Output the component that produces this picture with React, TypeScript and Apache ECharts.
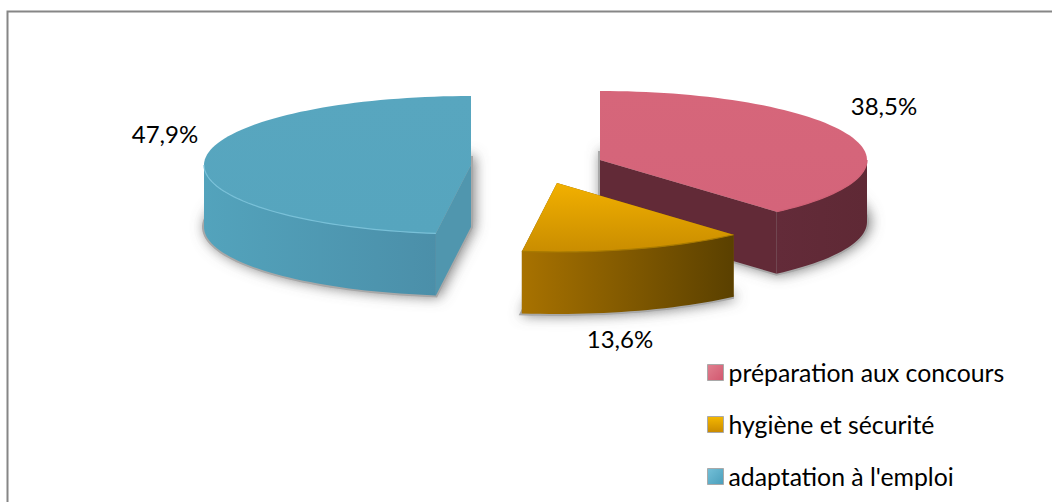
import React, { useEffect, useRef } from "react";
import * as echarts from "echarts";

const categories = ["préparation aux concours", "hygiène et sécurité", "adaptation à l'emploi"];
const values = [38.5, 13.6, 47.9];
const valueLabels = ["38,5%", "13,6%", "47,9%"];

const FONT = "Lato";
const RX = 267;
const RY = 69;
const DEPTH = 62;
const TOTAL = values.reduce((a, b) => a + b, 0);

const LG = (a: number, b: number, c: number, d: number, from: string, to: string) =>
  new echarts.graphic.LinearGradient(a, b, c, d, [
    { offset: 0, color: from },
    { offset: 1, color: to },
  ]);

const looks = [
  {
    center: [600, 160], labelAt: [884, 105],
    top: LG(0, 0, 0, 1, "#d6667a", "#d4647a"),
    wall: LG(0, 0, 1, 0, "#632b39", "#5f2935"),
    cut: "#622a37", edge: "#cf6075",
    marker: LG(0, 0, 1, 1, "#e0808f", "#d2576f"),
    main: "#d6667a",
  },
  {
    center: [557, 183], labelAt: [620, 338],
    top: LG(0, 0, 0, 1, "#f2b000", "#c98d00"),
    wall: LG(0, 0, 1, 0, "#a87200", "#5a4000"),
    cut: "#7a5500", edge: "#a87a00",
    marker: LG(0, 0, 0, 1, "#f5b800", "#c98a00"),
    main: "#f2b000",
  },
  {
    center: [471, 165], labelAt: [165, 133],
    top: LG(0, 0, 0, 1, "#58a6bf", "#56a5be"),
    wall: LG(1, 0, 0, 0, "#4b8fa9", "#53a3bc"),
    cut: "#5096ae", edge: "#78c0d8",
    marker: LG(0, 0, 1, 1, "#74c0d8", "#4a9ebb"),
    main: "#58a6bf",
  },
];

function sliceRange(i: number) {
  const before = values.slice(0, i).reduce((a, b) => a + b, 0);
  return [(before / TOTAL) * Math.PI * 2, ((before + values[i]) / TOTAL) * Math.PI * 2];
}

function arc(cx: number, cy: number, a0: number, a1: number) {
  const n = Math.max(2, Math.ceil(((a1 - a0) / Math.PI) * 90));
  const pts: number[][] = [];
  for (let k = 0; k <= n; k++) {
    const a = a0 + ((a1 - a0) * k) / n;
    pts.push([cx + RX * Math.sin(a), cy - RY * Math.cos(a)]);
  }
  return pts;
}

function renderSlice(i: number) {
  return () => {
    const look = looks[i];
    const [cx, cy] = look.center;
    const [a0, a1] = sliceRange(i);
    const children: any[] = [];
    const topArc = arc(cx, cy, a0, a1);
    const botArc = arc(cx, cy + DEPTH, a0, a1);

    // soft shadow: the lower face, blurred
    children.push({
      type: "polygon",
      z2: 0,
      shape: { points: [[cx, cy + DEPTH], ...botArc] },
      style: { fill: "#9c9c9c", stroke: "#a8a8a8", lineWidth: 4, shadowBlur: 13, shadowColor: "rgba(100,100,100,0.8)", shadowOffsetX: 2 },
    });

    // cut walls
    [a0, a1].forEach((a) => {
      const px = cx + RX * Math.sin(a);
      const py = cy - RY * Math.cos(a);
      children.push({
        type: "polygon",
        z2: 10 + i * 10,
        shape: { points: [[cx, cy], [px, py], [px, py + DEPTH], [cx, cy + DEPTH]] },
        style: { fill: look.cut },
      });
    });

    // outer wall, front half only
    const f0 = Math.max(a0, Math.PI / 2);
    const f1 = Math.min(a1, (Math.PI * 3) / 2);
    if (f1 > f0) {
      const up = arc(cx, cy, f0, f1);
      const down = arc(cx, cy + DEPTH, f0, f1).reverse();
      children.push({
        type: "polygon",
        z2: 11 + i * 10,
        shape: { points: [...up, ...down] },
        style: { fill: look.wall },
      });
      children.push({
        type: "polyline",
        z2: 13 + i * 10,
        shape: { points: up },
        style: { stroke: look.edge, lineWidth: 1.2, fill: "none" },
      });
    }

    // top face
    children.push({
      type: "polygon",
      z2: 12 + i * 10,
      shape: { points: [[cx, cy], ...topArc] },
      style: { fill: look.top },
    });

    children.push({
      type: "text",
      z2: 60,
      style: {
        x: look.labelAt[0],
        y: look.labelAt[1],
        text: valueLabels[i],
        fill: "#000",
        font: `24px ${FONT}`,
        align: "center",
        verticalAlign: "middle",
      },
    });
    return { type: "group", children };
  };
}

export default function App() {
  const ref = useRef<HTMLDivElement>(null);
  useEffect(() => {
    const chart = echarts.init(ref.current!, undefined, { renderer: "svg" });
    chart.setOption({
      animation: false,
      backgroundColor: "#fff",
      graphic: [
        {
          type: "polyline",
          silent: true,
          shape: { points: [[7.5, 502], [7.5, 11.5], [1052, 11.5]] },
          style: { fill: "none", stroke: "#868686", lineWidth: 2 },
        },
      ],
      legend: {
        orient: "vertical",
        left: 702,
        top: 355,
        icon: "rect",
        itemWidth: 16,
        itemHeight: 16,
        itemGap: 27,
        selectedMode: false,
        textStyle: { fontFamily: FONT, fontSize: 24.8, color: "#000", lineHeight: 24 },
        data: categories.map((name, i) => ({
          name,
          itemStyle: { color: looks[i].marker, borderColor: "#a9a9a9", borderWidth: 1 },
        })),
      },
      series: categories.map((name, i) => ({
        type: "custom",
        name,
        coordinateSystem: "none",
        itemStyle: { color: looks[i].main },
        silent: true,
        data: [values[i]],
        renderItem: renderSlice(i),
      })),
    });
    return () => chart.dispose();
  }, []);
  return <div ref={ref} style={{ position: "fixed", left: 0, top: 0, width: 1052, height: 502 }} />;
}
